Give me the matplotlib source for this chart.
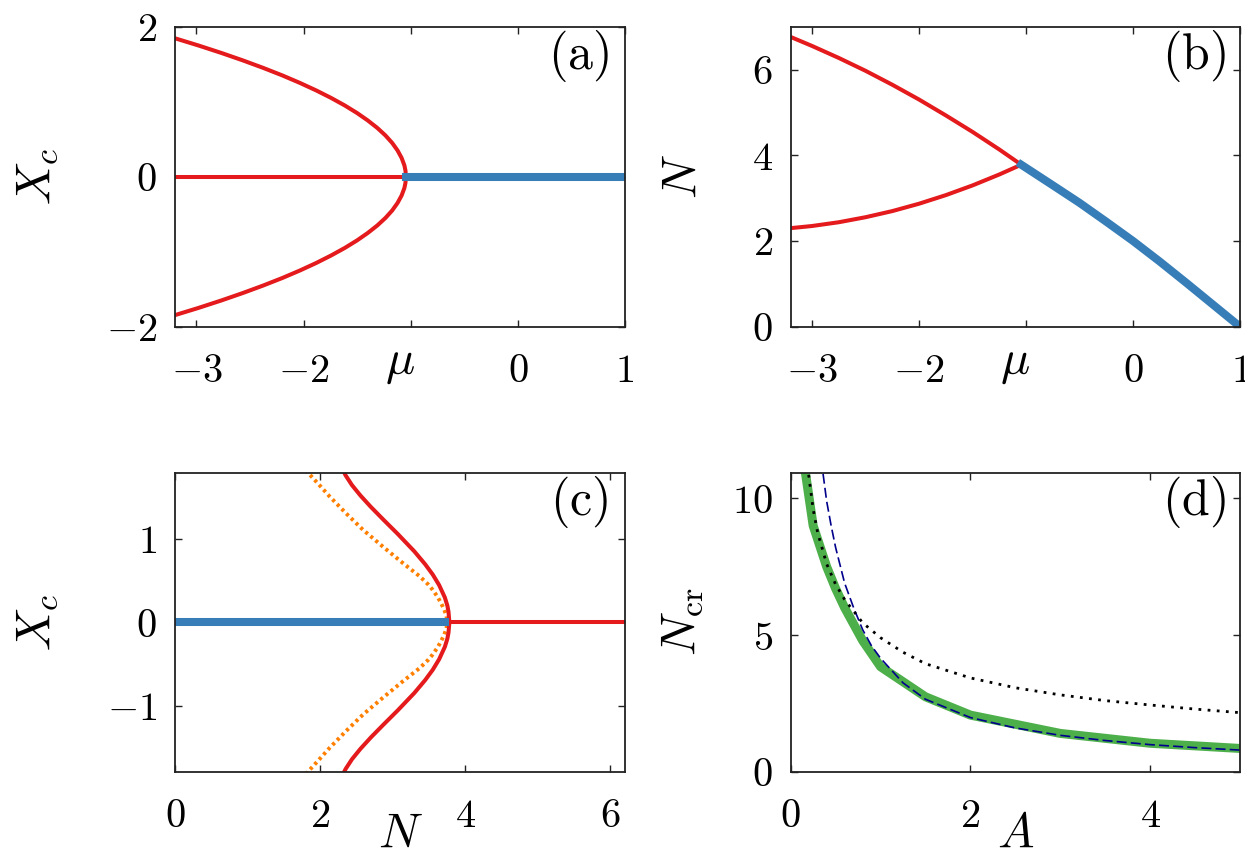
import matplotlib
matplotlib.use("Agg")
import matplotlib.pyplot as plt

plt.rcParams["mathtext.fontset"] = "cm"
plt.rcParams["font.family"] = ["DejaVu Serif"]

RED = "#e41a1c"
BLUE = "#377eb8"
GREEN = "#4daf4a"
ORANGE = "#ff7f00"
NAVY = "#00008b"

# (a) X_c versus mu: red parabola branches, red X=0 branch, blue stable branch
a_branch_mu = [-3.2, -2.983, -2.768, -2.566, -2.376, -2.198, -2.034, -1.882, -1.743,
               -1.616, -1.502, -1.401, -1.312, -1.236, -1.173, -1.123, -1.085, -1.059,
               -1.049, -1.045]
a_upper_x = [1.845, 1.75, 1.65, 1.55, 1.45, 1.35, 1.25, 1.15, 1.05, 0.95, 0.85, 0.75,
             0.65, 0.55, 0.45, 0.35, 0.25, 0.15, 0.08, 0.0]
a_lower_x = [-1.845, -1.75, -1.65, -1.55, -1.45, -1.35, -1.25, -1.15, -1.05, -0.95, -0.85,
             -0.75, -0.65, -0.55, -0.45, -0.35, -0.25, -0.15, -0.08, 0.0]
a_zero_red_mu = [-3.2, -1.045]
a_zero_blue_mu = [-1.045, 1.0]

# (b) N versus mu
b_mu = [-3.2, -3.0, -2.75, -2.5, -2.25, -2.0, -1.75, -1.5, -1.25, -1.045]
b_upper_n = [6.76, 6.55, 6.27, 5.97, 5.645, 5.30, 4.93, 4.545, 4.135, 3.78]
b_lower_n = [2.30, 2.35, 2.438, 2.555, 2.698, 2.87, 3.07, 3.297, 3.552, 3.78]
b_stable_mu = [-1.045, -0.75, -0.5, -0.25, 0.0, 0.25, 0.5, 0.75, 1.0]
b_stable_n = [3.78, 3.30, 2.89, 2.45, 2.00, 1.52, 1.02, 0.51, 0.0]

# (c) X_c versus N
c_red_n = [2.30, 2.35, 2.438, 2.555, 2.698, 2.87, 3.07, 3.297, 3.446, 3.552, 3.639,
           3.718, 3.752, 3.768, 3.78]
c_red_upper_x = [1.845, 1.758, 1.641, 1.516, 1.38, 1.228, 1.055, 0.848, 0.694, 0.569,
                 0.444, 0.295, 0.199, 0.126, 0.0]
c_red_lower_x = [-1.845, -1.758, -1.641, -1.516, -1.38, -1.228, -1.055, -0.848, -0.694,
                 -0.569, -0.444, -0.295, -0.199, -0.126, 0.0]
c_orange_n = [1.80, 1.98, 2.13, 2.36, 2.59, 2.87, 3.14, 3.37, 3.49, 3.55, 3.62, 3.67,
              3.71, 3.741, 3.75]
c_orange_upper_x = [1.82, 1.65, 1.505, 1.3, 1.106, 0.9, 0.707, 0.55, 0.45, 0.387, 0.3,
                    0.22, 0.148, 0.07, 0.0]
c_orange_lower_x = [-1.82, -1.65, -1.505, -1.3, -1.106, -0.9, -0.707, -0.55, -0.45, -0.387,
                    -0.3, -0.22, -0.148, -0.07, 0.0]
c_blue_n = [0.0, 3.78]
c_red_zero_n = [3.78, 6.2]

# (d) N_cr versus A
d_green_a = [0.17, 0.25, 0.3, 0.4, 0.5, 0.6, 0.8, 1.0, 1.5, 2.0, 3.0, 4.0, 5.0]
d_green_n = [10.8, 9.0, 8.5, 7.5, 6.7, 6.0, 4.8, 3.84, 2.74, 2.07, 1.40, 1.04, 0.85]
d_dot_a = [0.2, 0.25, 0.3, 0.4, 0.5, 0.6, 0.8, 1.0, 1.25, 1.5, 2.0, 2.5, 3.0, 3.5, 4.0, 4.5, 5.0]
d_dot_n = [10.86, 9.6, 8.75, 7.6, 6.85, 6.3, 5.45, 4.9, 4.37, 3.95, 3.43, 3.07, 2.81, 2.6,
           2.44, 2.29, 2.16]
d_dash_a = [0.36, 0.4, 0.45, 0.5, 0.6, 0.7, 0.8, 0.9, 1.0, 1.25, 1.5, 2.0, 2.5, 3.0, 3.5,
            4.0, 4.5, 5.0]
d_dash_n = [10.9, 9.9, 9.0, 8.2, 6.9, 6.0, 5.2, 4.6, 4.15, 3.25, 2.65, 1.98, 1.6, 1.33, 1.14,
            0.99, 0.88, 0.79]

TICK_FS = 29
LABEL_FS = 35
PANEL_FS = 36


def style_axes(ax, xticks, xlabels, yticks, ylabels):
    ax.set_xticks(xticks)
    ax.set_xticklabels(xlabels)
    ax.set_yticks(yticks)
    ax.set_yticklabels(ylabels)
    ax.tick_params(direction="in", top=True, right=True, length=5, width=1.0,
                   labelsize=TICK_FS, color="#222222")
    ax.tick_params(axis="x", pad=19)
    ax.tick_params(axis="y", pad=13)
    for sp in ax.spines.values():
        sp.set_linewidth(1.3)
        sp.set_color("#222222")


def m(v):
    return "$%s$" % v


fig = plt.figure(figsize=(12.45, 8.58), dpi=100)
ax_a = fig.add_axes([0.1406, 0.6192, 0.3614, 0.3497])
ax_b = fig.add_axes([0.6351, 0.6192, 0.3609, 0.3497])
ax_c = fig.add_axes([0.1406, 0.1006, 0.3614, 0.3485])
ax_d = fig.add_axes([0.6351, 0.1006, 0.3609, 0.3485])

# (a)
ax_a.plot(a_branch_mu, a_upper_x, color=RED, lw=2.9)
ax_a.plot(a_branch_mu, a_lower_x, color=RED, lw=2.9)
ax_a.plot(a_zero_red_mu, [0, 0], color=RED, lw=2.9)
ax_a.plot(a_zero_blue_mu, [0, 0], color=BLUE, lw=5.8)
ax_a.set_xlim(-3.2, 1)
ax_a.set_ylim(-2, 2)
style_axes(ax_a, [-3, -2, -1, 0, 1], [m("-3"), m("-2"), "", m("0"), m("1")],
           [-2, 0, 2], [m("-2"), m("0"), m("2")])

# (b)
ax_b.plot(b_mu, b_upper_n, color=RED, lw=2.9)
ax_b.plot(b_mu, b_lower_n, color=RED, lw=2.9)
ax_b.plot(b_stable_mu, b_stable_n, color=BLUE, lw=5.8)
ax_b.set_xlim(-3.2, 1)
ax_b.set_ylim(0, 7)
style_axes(ax_b, [-3, -2, -1, 0, 1], [m("-3"), m("-2"), "", m("0"), m("1")],
           [0, 2, 4, 6], [m("0"), m("2"), m("4"), m("6")])

# (c)
for xs in (c_orange_upper_x, c_orange_lower_x):
    ax_c.plot(c_orange_n, xs, color=ORANGE, lw=2.8, dashes=(0.8, 0.9))
for xs in (c_red_upper_x, c_red_lower_x):
    ax_c.plot(c_red_n, xs, color=RED, lw=2.9)
ax_c.plot(c_red_zero_n, [0, 0], color=RED, lw=2.9)
ax_c.plot(c_blue_n, [0, 0], color=BLUE, lw=5.8, solid_capstyle="butt")
ax_c.set_xlim(0, 6.2)
ax_c.set_ylim(-1.79, 1.79)
style_axes(ax_c, [0, 2, 4, 6], [m("0"), m("2"), m("4"), m("6")],
           [-1, 0, 1], [m("-1"), m("0"), m("1")])

# (d)
ax_d.plot(d_green_a, d_green_n, color=GREEN, lw=6.5)
ax_d.plot(d_dash_a, d_dash_n, color=NAVY, lw=1.2, dashes=(6, 2.5))
ax_d.plot(d_dot_a, d_dot_n, color="black", lw=2.0, dashes=(1, 2.3))
ax_d.set_xlim(0, 5)
ax_d.set_ylim(0, 10.94)
style_axes(ax_d, [0, 2, 4], [m("0"), m("2"), m("4")],
           [0, 5, 10], [m("0"), m("5"), m("10")])

# axis labels
for ax, lab, y in [(ax_a, r"$\mu$", -0.118), (ax_b, r"$\mu$", -0.118),
                   (ax_c, r"$N$", -0.205), (ax_d, r"$A$", -0.205)]:
    ax.text(0.5, y, lab, transform=ax.transAxes, ha="center", va="center",
            fontsize=LABEL_FS)
for ax, lab, x in [(ax_a, r"$X_c$", -0.307), (ax_b, r"$N$", -0.242),
                   (ax_c, r"$X_c$", -0.307), (ax_d, r"$N_{\rm cr}$", -0.244)]:
    ax.text(x, 0.5, lab, transform=ax.transAxes, ha="center", va="center",
            rotation=90, fontsize=LABEL_FS)

# panel labels
for ax, tag in [(ax_a, "a"), (ax_b, "b"), (ax_c, "c"), (ax_d, "d")]:
    ax.text(0.897, 0.902, r"$\mathrm{(%s)}$" % tag, transform=ax.transAxes,
            ha="center", va="center", fontsize=PANEL_FS)

fig.savefig("out.png", dpi=100)
